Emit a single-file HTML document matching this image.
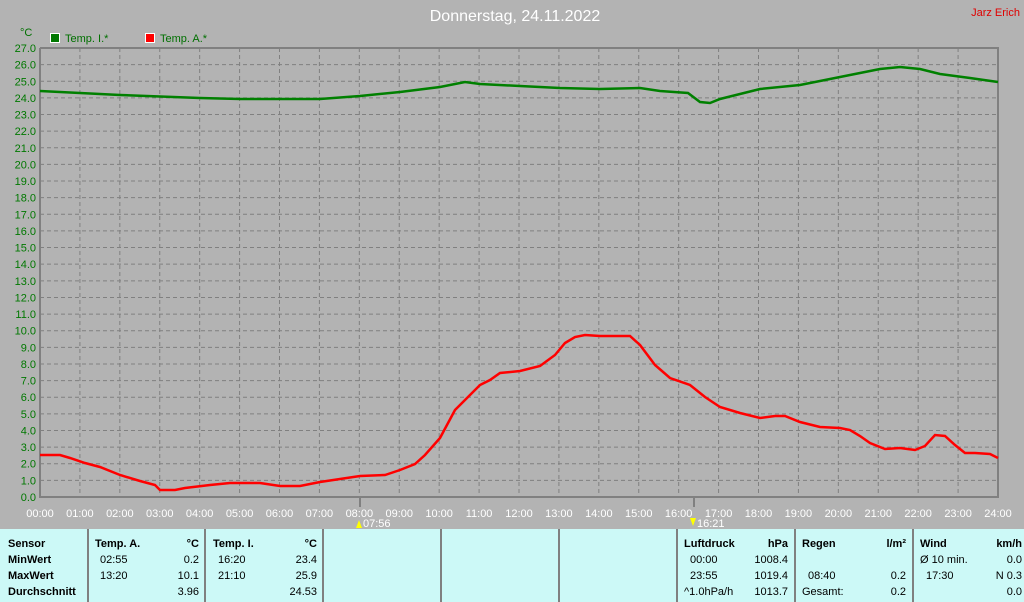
<!DOCTYPE html>
<html><head><meta charset="utf-8"><style>
body{margin:0;width:1024px;height:602px;overflow:hidden;background:#b3b3b3;font-family:"Liberation Sans",sans-serif}
svg{position:absolute;left:0;top:0}
</style></head><body>
<svg width="1024" height="602" xmlns="http://www.w3.org/2000/svg" font-family="Liberation Sans, sans-serif">
<rect width="1024" height="602" fill="#b3b3b3"/>
<text x="515" y="21" font-size="16" fill="#fff" text-anchor="middle">Donnerstag, 24.11.2022</text>
<text x="1020" y="16" font-size="11" fill="#e00000" text-anchor="end">Jarz Erich</text>
<text x="20" y="36" font-size="11" fill="#007000">°C</text>
<rect x="50.5" y="33.5" width="9" height="9" fill="#007800" stroke="#fff"/>
<text x="65" y="42" font-size="11" fill="#007000">Temp. I.*</text>
<rect x="145.5" y="33.5" width="9" height="9" fill="#f00" stroke="#fff"/>
<text x="160" y="42" font-size="11" fill="#007000">Temp. A.*</text>
<g id="grid" stroke="#808080" stroke-dasharray="4,3" stroke-width="1">
</g>
<g id="yl" font-size="11" fill="#007800" text-anchor="end"></g>
<g id="xl" font-size="11" fill="#fff" text-anchor="middle"></g>
<path d="M40 48V497H998V48H40" fill="none" stroke="#808080" stroke-width="2"/>
<line x1="360" y1="497" x2="360" y2="507" stroke="#808080" stroke-width="2"/>
<line x1="694" y1="497" x2="694" y2="507" stroke="#808080" stroke-width="2"/>
<text x="363" y="527" font-size="11" fill="#fff">07:56</text>
<polygon points="356,528 359,520 362,528" fill="#ff0"/>
<text x="697" y="527" font-size="11" fill="#fff">16:21</text>
<polygon points="690,518 693,526 696,518" fill="#ff0"/>
<polyline fill="none" stroke="#008000" stroke-width="2.5" points="40,91 120,95 200,98 240,99 320,99 360,96 400,92 440,87 465,82 480,84 520,86 560,88 600,89 640,88 660,91 688,93 700,102 710,103 720,99 760,89 800,85 830,79 860,73 880,69 900,67 920,69 940,74 970,78 998,82"/>
<polyline fill="none" stroke="#f00" stroke-width="2.5" points="40,455 60,455 70,458 85,463 100,467 120,475 140,481 155,485 160,490 175,490 185,488 210,485 230,483 260,483 280,486 300,486 320,482 340,479 360,476 385,475 400,470 415,464 425,455 440,438 455,410 465,400 480,385 490,380 500,373 520,371 540,366 555,355 565,343 575,337 585,335 600,336 630,336 640,345 655,365 670,378 690,385 705,397 720,407 740,413 760,418 775,416 785,416 800,422 820,427 840,428 850,430 860,436 870,443 885,449 900,448 915,450 925,446 935,435 945,436 955,445 965,453 975,453 990,454 998,458"/>
<rect x="0" y="529" width="1024" height="73" fill="#ccf9f7"/>
<g stroke="#808080" stroke-width="2">
<line x1="88" y1="529" x2="88" y2="602"/><line x1="205" y1="529" x2="205" y2="602"/><line x1="323" y1="529" x2="323" y2="602"/><line x1="441" y1="529" x2="441" y2="602"/><line x1="559" y1="529" x2="559" y2="602"/><line x1="677" y1="529" x2="677" y2="602"/><line x1="795" y1="529" x2="795" y2="602"/><line x1="913" y1="529" x2="913" y2="602"/>
</g>
<g font-size="11" fill="#000">
<g font-weight="bold"><text x="8" y="547">Sensor</text><text x="8" y="563">MinWert</text><text x="8" y="579">MaxWert</text><text x="8" y="595">Durchschnitt</text>
<text x="95" y="547">Temp. A.</text><text x="199" y="547" text-anchor="end">°C</text>
<text x="213" y="547">Temp. I.</text><text x="317" y="547" text-anchor="end">°C</text>
<text x="684" y="547">Luftdruck</text><text x="788" y="547" text-anchor="end">hPa</text>
<text x="802" y="547">Regen</text><text x="906" y="547" text-anchor="end">l/m²</text>
<text x="920" y="547">Wind</text><text x="1022" y="547" text-anchor="end">km/h</text></g>
<text x="100" y="563">02:55</text><text x="199" y="563" text-anchor="end">0.2</text>
<text x="100" y="579">13:20</text><text x="199" y="579" text-anchor="end">10.1</text>
<text x="199" y="595" text-anchor="end">3.96</text>
<text x="218" y="563">16:20</text><text x="317" y="563" text-anchor="end">23.4</text>
<text x="218" y="579">21:10</text><text x="317" y="579" text-anchor="end">25.9</text>
<text x="317" y="595" text-anchor="end">24.53</text>
<text x="690" y="563">00:00</text><text x="788" y="563" text-anchor="end">1008.4</text>
<text x="690" y="579">23:55</text><text x="788" y="579" text-anchor="end">1019.4</text>
<text x="684" y="595">^1.0hPa/h</text><text x="788" y="595" text-anchor="end">1013.7</text>
<text x="808" y="579">08:40</text><text x="906" y="579" text-anchor="end">0.2</text>
<text x="802" y="595">Gesamt:</text><text x="906" y="595" text-anchor="end">0.2</text>
<text x="920" y="563">Ø 10 min.</text><text x="1022" y="563" text-anchor="end">0.0</text>
<text x="926" y="579">17:30</text><text x="1022" y="579" text-anchor="end">N 0.3</text>
<text x="1022" y="595" text-anchor="end">0.0</text>
</g>
<script>
var ns="http://www.w3.org/2000/svg",g=document.getElementById('grid'),yl=document.getElementById('yl'),xl=document.getElementById('xl');
for(var i=0;i<=27;i++){var y=497-i*449/27;
if(i>0&&i<27){var l=document.createElementNS(ns,'line');l.setAttribute('x1',40);l.setAttribute('x2',998);l.setAttribute('y1',y);l.setAttribute('y2',y);g.appendChild(l);}
var t=document.createElementNS(ns,'text');t.setAttribute('x',36);t.setAttribute('y',y+4);t.textContent=i+'.0';yl.appendChild(t);}
for(var h=0;h<=24;h++){var x=40+h*958/24;
if(h>0&&h<24){var l=document.createElementNS(ns,'line');l.setAttribute('x1',x);l.setAttribute('x2',x);l.setAttribute('y1',48);l.setAttribute('y2',497);g.appendChild(l);}
var t=document.createElementNS(ns,'text');t.setAttribute('x',x);t.setAttribute('y',517);t.textContent=(h<10?'0':'')+h+':00';xl.appendChild(t);}
</script>
</svg>
</body></html>
